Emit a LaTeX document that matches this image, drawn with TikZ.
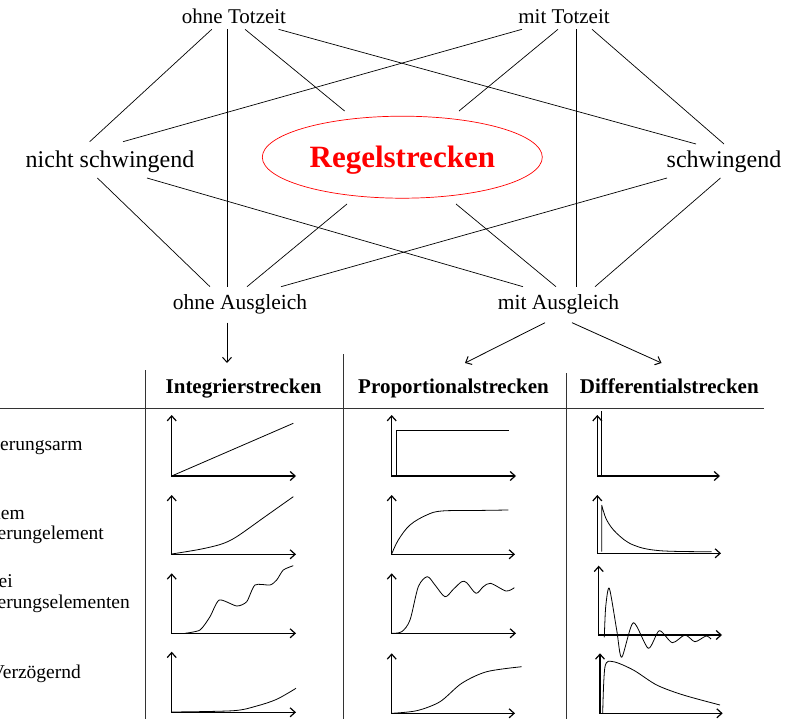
\documentclass[tikz,border=0pt]{standalone}
\usepackage{fontspec}
\setmainfont{Liberation Serif}
\usetikzlibrary{calc,arrows.meta,shapes.geometric}
\begin{document}
\begin{tikzpicture}[x=1pt,y=-1pt,
  lbl/.style={inner sep=0pt,anchor=base,font=\fontsize{21}{25}\selectfont},
  biglbl/.style={inner sep=0pt,anchor=base,font=\fontsize{24}{28}\selectfont},
  head/.style={inner sep=0pt,anchor=base,font=\fontsize{21}{25}\selectfont\bfseries},
  side/.style={inner sep=0pt,anchor=base east,font=\fontsize{19.5}{22}\selectfont},
  conn/.style={line width=0.7pt},
  darr/.style={line width=0.8pt,-{Straight Barb[length=5pt,width=9pt,line width=1pt]}},
  tab/.style={line width=0.9pt,black!80},
  axes/.style={line width=1.1pt,{Straight Barb[length=5pt,width=9pt,line width=1.2pt]}-{Straight Barb[length=5pt,width=9pt,line width=1.2pt]}},
  curve/.style={line width=0.8pt,line join=round}
]
\useasboundingbox (0,0) rectangle (805,719);
\clip (0,0) rectangle (805,719);

% ---- top graph nodes
\node[lbl] (ot) at (234,23.3) {ohne Totzeit};
\node[lbl] (mt) at (564,23.3) {mit Totzeit};
\node[biglbl] (ns) at (110,167.7) {nicht schwingend};
\node[biglbl] (sw) at (724,167.7) {schwingend};
\node[ellipse,draw=red,line width=0.7pt,inner sep=0pt,minimum width=280pt,minimum height=82pt,
      text=red,text depth=0pt,font=\fontsize{31}{35}\selectfont\bfseries] (rs) at (402.3,157.2) {Regelstrecken};
\node[lbl,font=\fontsize{21.5}{25}\selectfont] (oa) at (240,309.3) {ohne Ausgleich};
\node[lbl,font=\fontsize{21.5}{25}\selectfont] (ma) at (558.5,309.3) {mit Ausgleich};

% ---- connectors
\draw[conn] ($(ot.base)+(-22.2,6)$) -- ($(ns.base)+(-20.3,-26)$);
\draw[conn] ($(ot.base)+(-7,6)$) -- ($(oa.base)+(-13,-22.6)$);
\draw[conn] ($(ot.base)+(11,6)$) -- ($(rs.center)+(-57.7,-46.2)$);
\draw[conn] ($(ot.base)+(44.5,6)$) -- ($(sw.base)+(-28,-23.7)$);
\draw[conn] ($(mt.base)+(-42,6)$) -- ($(ns.base)+(13,-26)$);
\draw[conn] ($(mt.base)+(-6,6)$) -- ($(rs.center)+(56.7,-46.2)$);
\draw[conn] ($(mt.base)+(12,6)$) -- ($(ma.base)+(17.5,-22.6)$);
\draw[conn] ($(mt.base)+(28,6)$) -- ($(sw.base)+(0,-23.7)$);
\draw[conn] ($(ns.base)+(-12.6,10.3)$) -- ($(oa.base)+(-30,-22.6)$);
\draw[conn] ($(ns.base)+(37,10.3)$) -- ($(ma.base)+(-35.5,-22.6)$);
\draw[conn] ($(rs.center)+(-55.3,46.8)$) -- ($(oa.base)+(7,-22.6)$);
\draw[conn] ($(rs.center)+(53.7,46.8)$) -- ($(ma.base)+(-2.5,-22.6)$);
\draw[conn] ($(sw.base)+(-57,10.3)$) -- ($(oa.base)+(41,-22.6)$);
\draw[conn] ($(sw.base)+(-3.5,10.3)$) -- ($(ma.base)+(36.5,-22.6)$);

% ---- table headers
\node[head] (hi) at (243.6,393.3) {Integrierstrecken};
\node[head] (hp) at (453.5,393.3) {Proportionalstrecken};
\node[head] (hd) at (669.3,393.3) {Differentialstrecken};

\draw[darr] ($(oa.base)+(-13,13.4)$) -- ($(hi.base)+(-16.6,-30.3)$);
\draw[darr] ($(ma.base)+(-13.5,13.4)$) -- ($(hp.base)+(11.5,-30.3)$);
\draw[darr] ($(ma.base)+(13.5,13.4)$) -- ($(hd.base)+(-7.8,-30.3)$);

% ---- table lines
\draw[tab] (0,408.5) -- (764,408.5);
\draw[tab] (145,370) -- (145,719);
\draw[tab] (343,354) -- (343,719);
\draw[tab] (566,373) -- (566,719);

% ---- row labels (clipped at the left edge)
\node[side] (r1) at (82.7,450) {Verzögerungsarm};
\node[side] (r2a) at (25,519) {mit einem};
\node[side] (r2b) at (104,539) {Verzögerungelement};
\node[side] (r3a) at (13,587.7) {mit zwei};
\node[side] (r3b) at (130,608) {Verzögerungselementen};
\node[side] (r4) at (81,678) {Verzögernd};

% ---- Integrierstrecken plots
\draw[axes] (171.7,415) -- (171.7,476) -- (296,476);
\draw[curve] (171.7,476) -- (293.3,423.3);
\draw[axes] (171.7,495) -- (171.7,554.3) -- (296,554.3);
\draw[curve] plot[smooth,tension=0.5] coordinates {(171.7,554) (200,549.3) (221.7,544) (236.7,536.7) (265,516.7) (293.3,496.7)};
\draw[axes] (171.7,573.3) -- (171.7,633.3) -- (296,633.3);
\draw[curve] plot[smooth,tension=0.4] coordinates {(185,633.3) (200,630) (210,616.7) (219.3,600) (236.7,606) (246.7,601.7) (255,585) (270,585) (276.7,580) (283.3,570) (293.3,565.7)};
\draw[axes] (171.7,651.7) -- (171.7,712.3) -- (296,712.3);
\draw[curve] plot[smooth,tension=0.5] coordinates {(171.7,712) (233.3,710.7) (256.7,706) (276.7,699.3) (296,688.3)};

% ---- Proportionalstrecken plots
\draw[axes] (391.7,415) -- (391.7,476) -- (516,476);
\draw[curve] (396,476) -- (396,430.7) -- (509.3,430.7);
\draw[axes] (391.7,495) -- (391.7,554.3) -- (515,554.3);
\draw[curve] plot[smooth,tension=0.6] coordinates {(391.7,554) (398.3,540) (410,525) (426.7,515) (441.7,511) (475,510.5) (508.3,510)};
\draw[axes] (391.7,573.3) -- (391.7,633.3) -- (516,633.3);
\draw[curve] plot[smooth,tension=0.5] coordinates {(391.7,633.3) (401.7,631.7) (410,620) (418.3,586.7) (427.3,576.7) (435,585) (445,596.7) (453.3,589.3) (461.7,581.7) (466.7,582.7) (476,593.3) (483.3,586.7) (490.7,583.3) (506,591) (514.3,587.7)};
\draw[axes] (391.7,653.3) -- (391.7,713.3) -- (515,713.3);
\draw[curve] plot[smooth,tension=0.5] coordinates {(391.7,713.3) (416.7,710.7) (440,701.7) (461.7,683.3) (486.7,671.7) (521.7,666.7)};

% ---- Differentialstrecken plots
\draw[axes] (597.3,415) -- (597.3,476) -- (720,476);
\draw[curve] (601.7,476) -- (601.7,410.7);
\draw[axes] (597.3,495) -- (597.3,553.3) -- (721,553.3);
\draw[curve] (601.7,551.7) -- (601.7,505) plot[smooth,tension=0.6] coordinates {(601.7,505) (606.7,520) (616.7,533.3) (633.3,545) (660,550.7) (711.7,551.7)};
\draw[axes] (598.7,565.7) -- (598.7,635) -- (722,635);
\draw[curve] plot[smooth,tension=0.45] coordinates {(604.3,637.3) (605.7,606.7) (609.3,588.3) (616.7,630) (621.7,657.3) (633.3,622.7) (648.3,648.3) (659.3,630.7) (672.3,642.7) (685,635) (695,641.7) (706,636) (711,639)};
\draw[axes] (600,653.3) -- (600,713.3) -- (722.7,713.3);
\draw[curve] plot[smooth,tension=0.5] coordinates {(602.7,713.3) (605,666.7) (613.3,661.7) (633.3,670) (656.7,685) (683.3,695) (720,705)};
\end{tikzpicture}
\end{document}
